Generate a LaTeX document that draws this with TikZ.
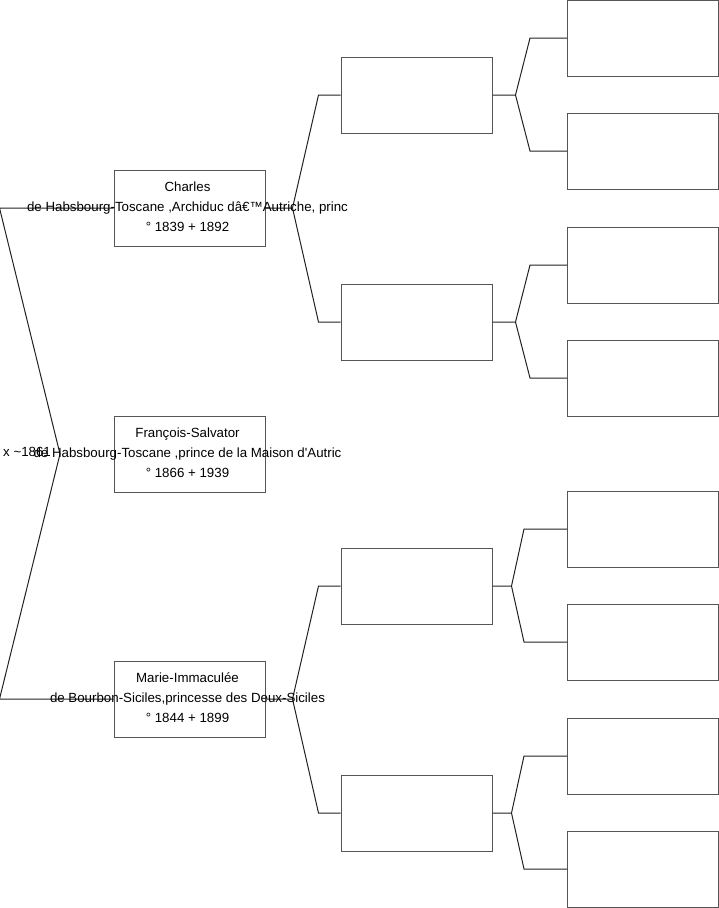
\documentclass[tikz,border=0pt]{standalone}
\usepackage{fontspec}
\setmainfont{Liberation Sans}
\definecolor{boxgray}{HTML}{555555}
\definecolor{linegray}{HTML}{222222}

\begin{document}
\begin{tikzpicture}[x=1pt, y=-1pt,
    box/.style={draw=boxgray, line width=1pt, minimum width=151pt, minimum height=76pt, inner sep=0pt},
    person/.style={align=center, font=\fontsize{13.3}{20}\selectfont, inner sep=0pt},
    link/.style={draw=linegray, line width=1pt}]
    \useasboundingbox (0,0) rectangle (719,908);

    % generation 1
    \node[box] (c1) at (189.5,208) {};
    \node[box] (fs) at (189.5,454) {};
    \node[box] (mi) at (189.5,699) {};

    % generation 2 and 3 (empty boxes)
    \foreach \n/\y in {1/95, 2/322, 3/586, 4/813}
        \node[box] (p\n) at (416.5,\y) {};
    \foreach \n/\y in {1/38, 2/151, 3/265, 4/378, 5/529, 6/642, 7/756, 8/869}
        \node[box] (g\n) at (643,\y) {};

    % parents of Francois-Salvator
    \coordinate (wed) at (60,454);
    \draw[link] (c1.west) -- ++(-114,0) coordinate (cw) -- (wed) -- ([xshift=-114]mi.west) -- (mi.west);
    \node[person, anchor=west] (mar) at (3,452) {x \textasciitilde1861};

    % grandparents
    \draw[link] (c1.east) -- ++(27,0) coordinate (ck) -- ([xshift=-22]p1.west) -- (p1.west)
        (ck) -- ([xshift=-22]p2.west) -- (p2.west);
    \draw[link] (mi.east) -- ++(27,0) coordinate (mk) -- ([xshift=-22]p3.west) -- (p3.west)
        (mk) -- ([xshift=-22]p4.west) -- (p4.west);

    % great-grandparents
    \foreach \p/\a/\b/\f/\k in {1/1/2/23/37, 2/3/4/23/37, 3/5/6/19/43, 4/7/8/19/43}
        \draw[link] (p\p.east) -- ++(\f,0) coordinate (fk\p) -- ([xshift=-\k]g\a.west) -- (g\a.west)
            (fk\p) -- ([xshift=-\k]g\b.west) -- (g\b.west);

    \node[person] (charles) at (187.5,207) {Charles\\de Habsbourg-Toscane ,Archiduc dâ€™Autriche, princ\\° 1839 + 1892};
    \node[person] (francois) at (187.5,453) {François-Salvator\\de Habsbourg-Toscane ,prince de la Maison d\textquotesingle Autric\\° 1866 + 1939};
    \node[person] (marie) at (187.5,698) {Marie-Immaculée\\de Bourbon-Siciles,princesse des Deux-Siciles\\° 1844 + 1899};
\end{tikzpicture}
\end{document}
